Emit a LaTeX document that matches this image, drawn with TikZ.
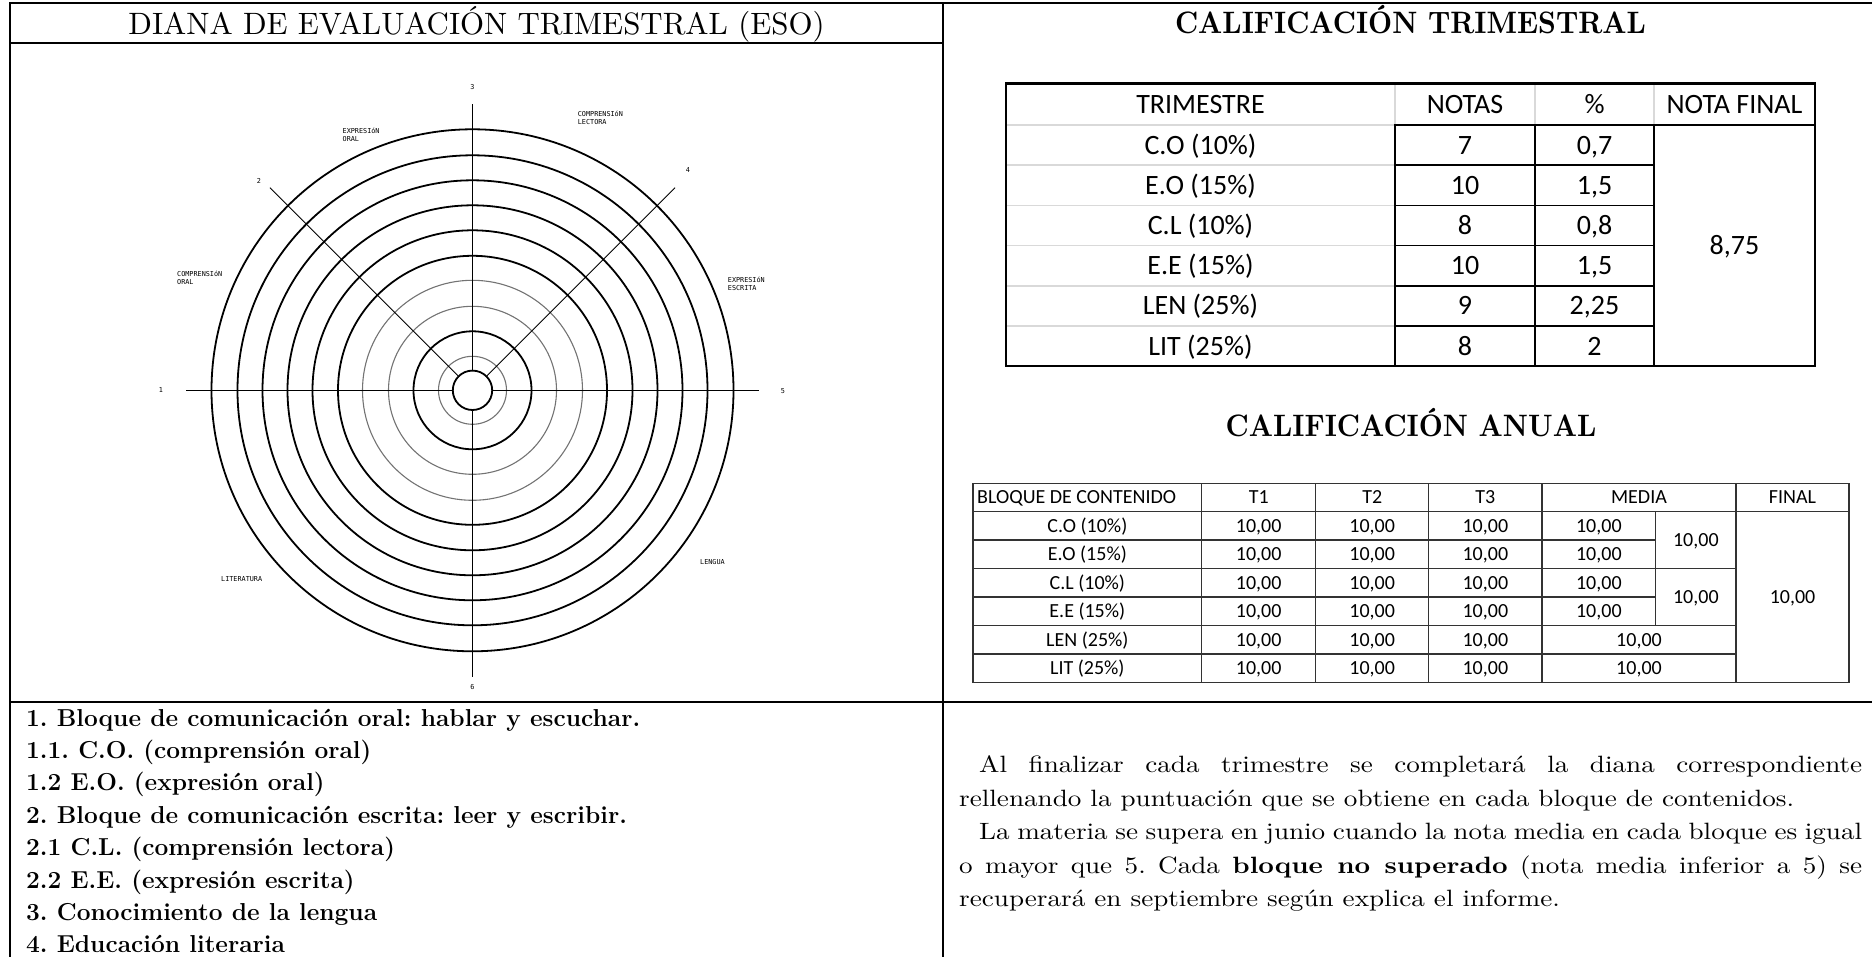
\documentclass[tikz,border=0pt]{standalone}
\usepackage{fontspec}
\newfontfamily\calibri{Carlito}
\newfontfamily\cadfont{DejaVu Sans Mono}
\newfontfamily\antiqua[Extension=.otf,UprightFont=*-regular,BoldFont=*-bold]{lmroman10}
\newfontfamily\palfont[FakeStretch=1.15,Extension=.otf,UprightFont=*-regular,BoldFont=*-bold]{lmroman10}
\newfontfamily\headfont[FakeStretch=0.9,Extension=.otf,UprightFont=*-bold]{lmroman10}
\frenchspacing
\begin{document}
\begin{tikzpicture}[x=1pt,y=-1pt,
    frame/.style={line width=2pt},
    ring/.style={line width=1.8pt},
    faint/.style={line width=1.1pt,black!55},
    axis/.style={line width=0.9pt},
    cad/.style={font=\cadfont\fontsize{6.8}{7.7}\selectfont,inner sep=0pt,align=left,anchor=west},
    cadnum/.style={font=\cadfont\fontsize{6.8}{7.7}\selectfont,inner sep=0pt},
    big/.style={font=\calibri\fontsize{28}{30}\selectfont,inner sep=0pt,text height=18pt,text depth=0pt},
    small/.style={font=\calibri\fontsize{20}{22}\selectfont,inner sep=0pt,text height=12.9pt,text depth=0pt},
    grid/.style={line width=1.5pt,black!15},
    cellline/.style={line width=1.6pt},
    annual/.style={line width=1.5pt,black!80},
    heading/.style={font=\headfont\fontsize{31}{36}\selectfont,inner sep=0pt,anchor=base},
    body/.style={font=\palfont\fontsize{23.6}{28}\selectfont,inner sep=0pt,anchor=base west},
    item/.style={font=\bfseries\fontsize{24.5}{28}\selectfont,inner sep=0pt,anchor=base west}]
\useasboundingbox (0,0) rectangle (1872,957);
\draw[frame] (10,957) -- (10,3.3) -- (1872,3.3);
\draw[frame] (943,3.3) -- (943,957);
\draw[frame] (10,43.3) -- (943,43.3);
\draw[frame] (10,701.5) -- (1872,701.5);
\node[font=\antiqua\fontsize{30.9}{34}\selectfont,inner sep=0pt,anchor=base] (hdiana) at (476.5,35) {DIANA DE EVALUACIÓN TRIMESTRAL (ESO)};
\node[heading] (htrim) at (1410.5,33.6) {CALIFICACIÓN TRIMESTRAL};
\node[heading] (hanual) at (1411,436.5) {CALIFICACIÓN ANUAL};

\node[circle,draw,ring,minimum size=39.4pt,inner sep=0pt] (hub) at (472.5,390.3) {};
\foreach \r in {59,134.5,160,185,210,235,261}
    \draw[ring] (hub.center) circle[radius=\r];
\foreach \r in {34,84,110}
    \draw[faint] (hub.center) circle[radius=\r];
\coordinate (e1) at (186,390.3);
\coordinate (e2) at (270,187.7);
\coordinate (e3) at (472.5,104);
\coordinate (e4) at (675,187.7);
\coordinate (e5) at (759,390.3);
\coordinate (e6) at (472.5,677);
\foreach \e in {1,...,6}
    \draw[axis] (hub) -- (e\e);
\node[cadnum] (n1) at (161,390.5) {1};
\node[cadnum] (n2) at (259,181) {2};
\node[cadnum] (n3) at (472.5,87) {3};
\node[cadnum] (n4) at (688,170) {4};
\node[cadnum] (n5) at (783,391) {5};
\node[cadnum] (n6) at (472.5,687) {6};
\node[cad] (leo) at (342.5,135) {EXPRESIóN\\ORAL};
\node[cad] (lcl) at (577.7,118) {COMPRENSIóN\\LECTORA};
\node[cad] (lco) at (177,278) {COMPRENSIóN\\ORAL};
\node[cad] (lee) at (727.7,283.6) {EXPRESIóN\\ESCRITA};
\node[cad] (llit) at (221,579) {LITERATURA};
\node[cad] (llen) at (700,562) {LENGUA};

\foreach \k in {0,...,5}
    \draw[grid] (1006,{125+40.2*\k}) -- (1395,{125+40.2*\k});
\foreach \x in {1395,1535,1654}
    \draw[grid] (\x,83.6) -- (\x,125);
\foreach \k in {0,...,5} {
    \draw[cellline] (1395,{125+40.2*\k}) rectangle (1535,{165.2+40.2*\k});
    \draw[cellline] (1535,{125+40.2*\k}) rectangle (1654,{165.2+40.2*\k});
}
\draw[cellline] (1654,125) rectangle (1815,366.2);
\draw[line width=2.5pt] (1006,83.6) rectangle (1815,366.2);
\node[big] (ttrim) at (1200.5,104.3) {TRIMESTRE};
\node[big] (tnotas) at (1465,104.3) {NOTAS};
\node[big] (tpct) at (1594.5,104.3) {\%};
\node[big] (tfinal) at (1734.5,104.3) {NOTA FINAL};
\foreach \lab/\nota/\pct [count=\i from 0] in {C.O (10\%)/7/{0,7}, E.O (15\%)/10/{1,5}, C.L (10\%)/8/{0,8}, E.E (15\%)/10/{1,5}, LEN (25\%)/9/{2,25}, LIT (25\%)/8/2} {
    \node[big] (tl\i) at (1200.5,{145.1+40.2*\i}) {\lab};
    \node[big] (tn\i) at (1465,{145.1+40.2*\i}) {\nota};
    \node[big] (tp\i) at (1594.5,{145.1+40.2*\i}) {\pct};
}
\node[big] (tnf) at (1734.5,245.6) {8,75};

\draw[annual] (973,483.5) rectangle (1849,682.5);
\draw[annual] (973,511.5) -- (1849,511.5);
\foreach \x in {1201.7,1315.7,1428.7,1542,1736}
    \draw[annual] (\x,483.5) -- (\x,682.5);
\draw[annual] (1655.7,511.5) -- (1655.7,625.5);
\foreach \k in {2,...,6}
    \draw[annual] (973,{511.5+28.5*(\k-1)}) -- (1655.7,{511.5+28.5*(\k-1)});
\foreach \k in {3,5,6}
    \draw[annual] (1655.7,{511.5+28.5*(\k-1)}) -- (1736,{511.5+28.5*(\k-1)});
\node[small,anchor=west] (bbloque) at (977,497.5) {BLOQUE DE CONTENIDO};
\node[small] (bt1) at (1258.7,497.5) {T1};
\node[small] (bt2) at (1372.2,497.5) {T2};
\node[small] (bt3) at (1485.35,497.5) {T3};
\node[small] (bmedia) at (1639,497.5) {MEDIA};
\node[small] (bfinal) at (1792.5,497.5) {FINAL};
\foreach \lab [count=\i from 0] in {C.O (10\%), E.O (15\%), C.L (10\%), E.E (15\%), LEN (25\%), LIT (25\%)} {
    \node[small] (bl\i) at (1087.35,{525.75+28.5*\i}) {\lab};
    \foreach \x [count=\j] in {1258.7,1372.2,1485.35}
        \node[small] (bv\i\j) at (\x,{525.75+28.5*\i}) {10,00};
}
\foreach \i in {0,...,3}
    \node[small] (bm\i) at (1598.85,{525.75+28.5*\i}) {10,00};
\node[small] (bmo) at (1695.85,540) {10,00};
\node[small] (bme) at (1695.85,597) {10,00};
\node[small] (bm4) at (1639,639.75) {10,00};
\node[small] (bm5) at (1639,668.25) {10,00};
\node[small] (bfin) at (1792.5,597) {10,00};

\node[item] (i1) at (26,726) {1. Bloque de comunicación oral: hablar y escuchar.};
\node[item] (i2) at (26,758.4) {1.1. C.O. (comprensión oral)};
\node[item] (i3) at (26,790.8) {1.2 E.O. (expresión oral)};
\node[item] (i4) at (26,823.2) {2. Bloque de comunicación escrita: leer y escribir.};
\node[item] (i5) at (26,855.6) {2.1 C.L. (comprensión lectora)};
\node[item] (i6) at (26,888) {2.2 E.E. (expresión escrita)};
\node[item] (i7) at (26,920.4) {3. Conocimiento de la lengua};
\node[item] (i8) at (26,952.8) {4. Educación literaria};

\node[body] (p1) at (979,772) {\makebox[883pt][s]{Al finalizar cada trimestre se completará la diana correspondiente}};
\node[body] (p2) at (959,806) {rellenando la puntuación que se obtiene en cada bloque de contenidos.};
\node[body] (p3) at (979,839) {\makebox[883pt][s]{La materia se supera en junio cuando la nota media en cada bloque es igual}};
\node[body] (p4) at (959,873) {\makebox[903pt][s]{o mayor que 5. Cada \textbf{bloque no superado} (nota media inferior a 5) se}};
\node[body] (p5) at (959,906) {recuperará en septiembre según explica el informe.};
\end{tikzpicture}
\end{document}
